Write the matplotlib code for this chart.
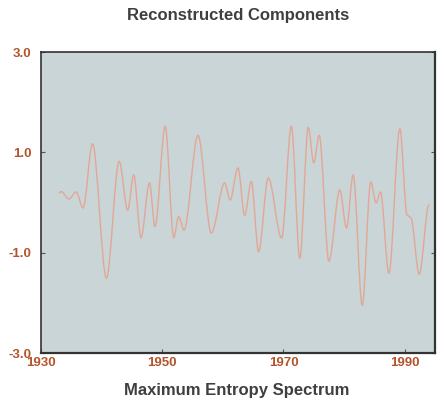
import matplotlib
matplotlib.use("Agg")
import matplotlib.pyplot as plt
from matplotlib.path import Path
from matplotlib.patches import PathPatch

# Turning points (year, value) of the reconstructed-component curve
years = [1933.0, 1933.3, 1934.6, 1935.8, 1936.95, 1938.5, 1940.8, 1942.9, 1944.3,
         1945.3, 1946.5, 1947.9, 1948.8, 1950.5, 1951.9, 1952.7, 1953.6, 1955.9,
         1958.1, 1960.3, 1961.2, 1962.5, 1963.6, 1964.7, 1965.9, 1967.5, 1969.7,
         1971.3, 1972.7, 1974.1, 1975.0, 1975.9, 1977.5, 1979.3, 1980.4, 1981.5,
         1983.0, 1984.4, 1985.3, 1986.0, 1987.4, 1989.2, 1990.4, 1991.0, 1992.4,
         1994.0]
values = [0.19, 0.22, 0.07, 0.21, -0.11, 1.17, -1.51, 0.82, -0.15,
          0.55, -0.70, 0.39, -0.48, 1.52, -0.70, -0.28, -0.55, 1.34,
          -0.61, 0.39, 0.05, 0.69, -0.26, 0.42, -0.98, 0.49, -0.71,
          1.52, -1.11, 1.50, 0.79, 1.34, -1.17, 0.25, -0.51, 0.55,
          -2.05, 0.41, -0.01, 0.21, -1.41, 1.47, -0.25, -0.30, -1.43,
          -0.05]

x_ticks = [1930, 1950, 1970, 1990]
y_ticks = [-3.0, -1.0, 1.0, 3.0]
y_tick_labels = ["-3.0", "-1.0", "1.0", "3.0"]

title = "Reconstructed Components"
subtitle = "Maximum Entropy Spectrum"

label_color = "#b4542c"
text_color = "#3f3f3f"

plt.rcParams['font.family'] = ['Liberation Sans', 'DejaVu Sans']

fig = plt.figure(figsize=(4.45, 4.0), dpi=100)
fig.patch.set_facecolor("white")
ax = fig.add_axes([0.0921, 0.1175, 0.8854, 0.7525])
ax.set_facecolor("#c9d5d6")

# Smooth curve through the turning points: cubic Bezier segments with
# horizontal tangents at each turning point (drawn by matplotlib's Path).
verts = [(years[0], values[0])]
codes = [Path.MOVETO]
for (t0, v0), (t1, v1) in zip(zip(years[:-1], values[:-1]), zip(years[1:], values[1:])):
    dt = t1 - t0
    verts += [(t0 + dt / 3.0, v0), (t1 - dt / 3.0, v1), (t1, v1)]
    codes += [Path.CURVE4, Path.CURVE4, Path.CURVE4]
curve = PathPatch(Path(verts, codes), facecolor="none", edgecolor="#e3a797",
                  linewidth=1.0, transform=ax.transData, capstyle="round",
                  joinstyle="round")
ax.add_patch(curve)

ax.set_xlim(1930, 1995)
ax.set_ylim(-3.0, 3.0)
ax.set_xticks(x_ticks)
ax.set_xticklabels([str(t) for t in x_ticks])
ax.set_yticks(y_ticks)
ax.set_yticklabels(y_tick_labels)

ax.tick_params(axis="both", direction="in", length=3, width=0.8,
               colors="#555555", labelcolor=label_color, labelsize=9.5)
ax.tick_params(axis="y", right=True, pad=7)
ax.tick_params(axis="x", top=False, pad=3)
for lab in ax.get_xticklabels() + ax.get_yticklabels():
    lab.set_fontweight("bold")

for side, sp in ax.spines.items():
    sp.set_color("#333333")
    sp.set_linewidth(1.2)
ax.spines["bottom"].set_linewidth(1.6)
ax.spines["right"].set_linewidth(1.6)

fig.text(0.535, 0.962, title, ha="center", va="center", fontsize=12,
         fontweight="bold", color=text_color)
fig.text(0.533, 0.025, subtitle, ha="center", va="center", fontsize=12,
         fontweight="bold", color=text_color)

fig.savefig("out.png", dpi=100, facecolor="white")
